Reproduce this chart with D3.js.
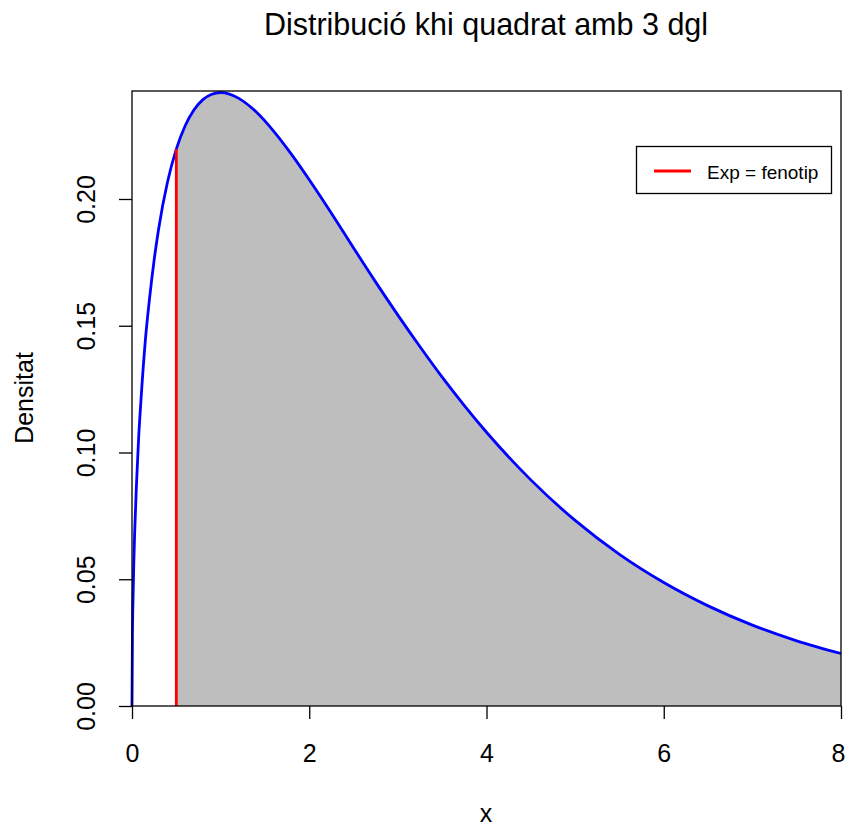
<!DOCTYPE html>
<html><head><meta charset="utf-8">
<script src="https://cdn.jsdelivr.net/npm/d3@7"></script>
<style>body{margin:0;background:#fff}svg{display:block;font-family:"Liberation Sans",Arial,sans-serif}</style>
</head><body><svg id="c" width="846" height="829"></svg>
<script>
// density
const xs = [0,0.005,0.01,0.02,0.03,0.05,0.075,0.1,0.15,0.2,0.25,0.3,0.4,0.5,0.6,0.7,0.8,0.9,1.0,1.1,1.2,1.4,1.6,1.8,2.0,2.25,2.5,2.75,3.0,3.25,3.5,3.75,4.0,4.5,5.0,5.5,6.0,6.5,7.0,7.5,8.0];
const ys = [0,0.0281,0.0397,0.0559,0.0683,0.0870,0.1058,0.1200,0.1440,0.1614,0.1760,0.1881,0.2066,0.2197,0.2289,0.2352,0.2392,0.2413,0.2420,0.2414,0.2398,0.2344,0.2267,0.2176,0.2076,0.1944,0.1807,0.1672,0.1542,0.1417,0.1297,0.1185,0.1080,0.0892,0.0732,0.0598,0.0487,0.0395,0.0319,0.0257,0.0207];
const expX = 0.5, expY = 0.2197;
const xTicks = [0,2,4,6,8];
const yTicks = [0,0.05,0.10,0.15,0.20];
const title = "Distribució khi quadrat amb 3 dgl";
const xLabel = "x", yLabel = "Densitat", legendLabel = "Exp = fenotip";

const FONT = "Liberation Sans, Arial, sans-serif";
const pts = xs.map((x,i)=>({x, y: ys[i]}));
const svg = d3.select("#c");
const L=132, R=841, T=91, B=706;
const x = d3.scaleLinear().domain([0,8]).range([L,R]);
const y = d3.scaleLinear().domain([0,0.2426]).range([B,T]);

// shaded area from expX to 8
const shade = pts.filter(p=>p.x>=expX);
svg.append("path").datum(shade)
  .attr("d", d3.area().x(d=>x(d.x)).y0(y(0)).y1(d=>y(d.y)).curve(d3.curveMonotoneX))
  .attr("fill","#bebebe");

// curve
svg.append("path").datum(pts)
  .attr("d", d3.line().x(d=>x(d.x)).y(d=>y(d.y)).curve(d3.curveMonotoneX))
  .attr("fill","none").attr("stroke","#0000ff").attr("stroke-width",2.8);

// red line
svg.append("line").attr("x1",x(expX)).attr("x2",x(expX)).attr("y1",y(0)).attr("y2",y(expY))
  .attr("stroke","#ff0000").attr("stroke-width",2.8);

// box
svg.append("rect").attr("x",L).attr("y",T).attr("width",R-L).attr("height",B-T)
  .attr("fill","none").attr("stroke","#000").attr("stroke-width",1.3);

// axes
const xa = svg.append("g").attr("transform",`translate(0,${B})`)
  .call(d3.axisBottom(x).tickValues(xTicks).tickFormat(d3.format("d")).tickSize(13).tickSizeOuter(0));
xa.select(".domain").remove();
xa.selectAll("line").attr("stroke-width",1.3);
xa.selectAll("text").attr("font-size",25).attr("fill","#000").attr("font-family",FONT)
  .attr("y",56).attr("dy",0).attr("dx", d => d === 8 ? -3 : 0);

const ya = svg.append("g").attr("transform",`translate(${L},0)`)
  .call(d3.axisLeft(y).tickValues(yTicks).tickFormat(d3.format(".2f")).tickSize(13).tickSizeOuter(0));
ya.select(".domain").remove();
ya.selectAll("line").attr("stroke-width",1.3);
ya.selectAll("text").attr("font-size",25).attr("fill","#000").attr("font-family",FONT)
  .attr("text-anchor","middle").attr("x",0).attr("dy",0)
  .attr("transform","translate(-37,0) rotate(-90)");

// titles
svg.append("text").attr("x",486).attr("y",35).attr("text-anchor","middle").attr("font-size",30.5).attr("font-family",FONT).text(title);
svg.append("text").attr("x",486).attr("y",822).attr("text-anchor","middle").attr("font-size",25).attr("font-family",FONT).text(xLabel);
svg.append("text").attr("transform","translate(33,398) rotate(-90)").attr("text-anchor","middle").attr("font-size",25).attr("font-family",FONT).text(yLabel);

// legend
svg.append("rect").attr("x",636.5).attr("y",146.5).attr("width",195).attr("height",47).attr("fill","#fff").attr("stroke","#000").attr("stroke-width",1.3);
svg.append("line").attr("x1",654).attr("x2",691).attr("y1",171).attr("y2",171).attr("stroke","#ff0000").attr("stroke-width",2.8);
svg.append("text").attr("x",707).attr("y",178.5).attr("font-size",19).attr("font-family",FONT).text(legendLabel);
</script></body></html>
